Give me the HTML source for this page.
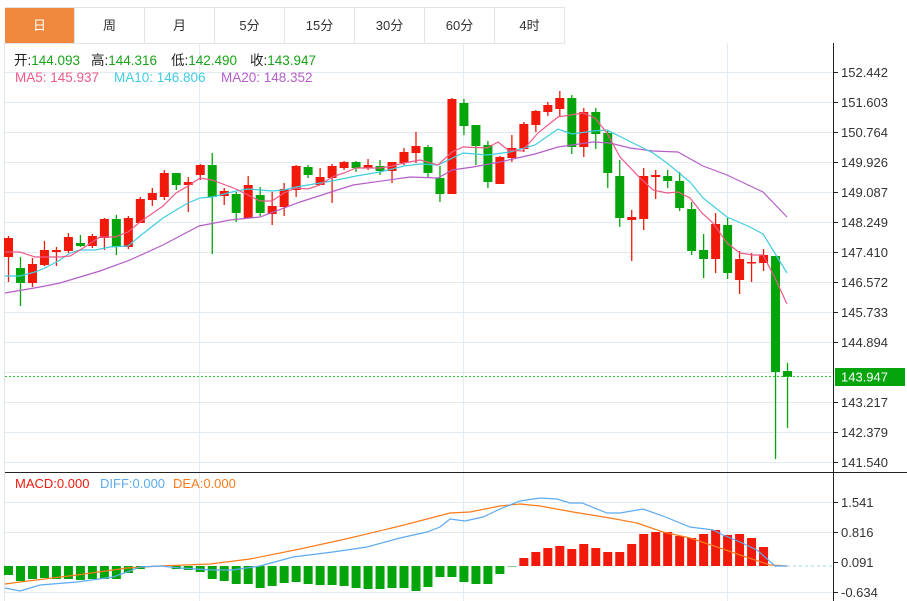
<!DOCTYPE html>
<html><head><meta charset="utf-8">
<style>
html,body{margin:0;padding:0;background:#fff;width:907px;height:601px;overflow:hidden;font-family:"Liberation Sans","Noto Sans CJK SC",sans-serif;}
.tabs{position:absolute;left:5px;top:7px;height:36px;display:flex;border-top:1px solid #e3e3e3;}
.tab{width:69px;height:35px;border-right:1px solid #e3e3e3;border-bottom:1px solid #e3e3e3;text-align:center;line-height:36px;font-size:13px;color:#333;}
.tab.on{background:#f0893e;color:#fff;}
svg{position:absolute;left:0;top:0;}
</style></head><body>
<div class="tabs"><div class="tab on">日</div><div class="tab">周</div><div class="tab">月</div><div class="tab">5分</div><div class="tab">15分</div><div class="tab">30分</div><div class="tab">60分</div><div class="tab">4时</div></div>
<svg id="s" width="907" height="601" xmlns="http://www.w3.org/2000/svg" font-family="Liberation Sans, Noto Sans CJK SC, sans-serif" font-size="13"></svg>
<script>
var s=document.getElementById('s');var h='';
var R='#f0190a',G='#03a50b';
h+='<line x1="4.5" y1="43" x2="4.5" y2="601" stroke="#dde3ea"/>';
for(var i=0;i<14;i++){var y=72.5+30*i;h+='<line x1="5" y1="'+y+'" x2="833" y2="'+y+'" stroke="#e2ebf2"/>';}
[502.5,532.5,592.5].forEach(function(y){h+='<line x1="5" y1="'+y+'" x2="833" y2="'+y+'" stroke="#e2ebf2"/>';});
[199.5,463.5,727.5].forEach(function(x){h+='<line x1="'+x+'" y1="43" x2="'+x+'" y2="601" stroke="#e2ebf2"/>';});
h+='<line x1="5" y1="472.5" x2="907" y2="472.5" stroke="#222"/>';
h+='<line x1="833.5" y1="43" x2="833.5" y2="601" stroke="#222"/>';
var lab=['152.442','151.603','150.764','149.926','149.087','148.249','147.410','146.572','145.733','144.894','','143.217','142.379','141.540'];
lab.forEach(function(t,i){var y=72.5+30*i;if(!t)return;h+='<line x1="833" y1="'+y+'" x2="838" y2="'+y+'" stroke="#222"/><text x="841" y="'+(y+4.5)+'" fill="#333">'+t+'</text>';});
[['1.541',502.5],['0.816',532.5],['0.091',562.5],['-0.634',592.5]].forEach(function(a){h+='<line x1="833" y1="'+a[1]+'" x2="838" y2="'+a[1]+'" stroke="#222"/><text x="841" y="'+(a[1]+4.5)+'" fill="#333">'+a[0]+'</text>';});
var c=[[238,257,236,282,R],[268,283,257,306,G],[264,283,258,287,R],[250,265,241,266,R],[250,252,247,266,R],[237,251,233,253,R],[243,246,235,247,G],[236,246,234,248,R],[219,238,218,250,R],[219,247,215,255,G],[218,247,216,249,R],[199,223,197,223,R],[193,200,188,206,R],[173,197,170,200,R],[173,185,173,190,G],[182,185,177,212,R],[165,175,164,180,R],[165,197,153,254,G],[191,196,188,205,R],[194,213,192,222,G],[185,218,176,218,R],[195,213,187,216,G],[206,214,192,225,R],[189,207,183,216,R],[166,190,165,197,R],[167,175,165,178,G],[177,185,168,185,R],[166,178,164,203,R],[162,168,161,170,R],[162,168,161,172,G],[165,168,159,170,R],[166,171,160,175,G],[162,171,162,183,R],[152,163,148,165,R],[146,153,132,163,R],[147,173,145,178,G],[178,194,166,202,G],[99,194,98,194,R],[103,126,99,135,G],[125,146,125,165,G],[145,182,141,188,G],[157,184,156,184,R],[148,158,135,162,R],[124,149,122,152,R],[111,125,110,132,R],[105,112,102,116,R],[98,109,91,116,R],[98,147,95,154,G],[112,147,108,157,R],[112,134,108,149,G],[133,173,130,188,G],[176,218,160,227,G],[217,220,210,261,R],[176,219,168,230,R],[175,177,170,199,R],[176,181,170,188,G],[181,208,172,211,G],[209,251,202,255,G],[250,259,234,278,G],[224,259,213,273,R],[225,273,218,279,G],[259,280,251,294,R],[262,263,253,282,R],[255,263,249,271,R],[256,372,256,459,G],[371,377,363,428,G]];
function X(i){return 8.5+i*11.985;}
c.forEach(function(d,i){var x=X(i);h+='<line x1="'+x+'" y1="'+d[2]+'" x2="'+x+'" y2="'+d[3]+'" stroke="'+d[4]+'" stroke-width="1.3"/>';var bh=Math.max(d[1]-d[0],1.5);h+='<rect x="'+(x-4.5)+'" y="'+d[0]+'" width="9" height="'+bh+'" fill="'+d[4]+'"/>';});
function pl(p,col,w){h+='<polyline fill="none" stroke="'+col+'" stroke-width="'+(w||1.2)+'" points="'+p.map(function(a){return a.join(',')}).join(' ')+'"/>';}
pl([[5,293],[40,287],[60,283],[100,271],[130,260],[163,245],[199,226],[230,220],[260,217],[300,202],[353,185],[410,177],[438,178],[452,170],[473,167],[500,162],[535,154],[558,147],[593,142],[610,143],[630,148],[653,151],[678,152],[703,166],[727,175],[763,192],[787,217]],'#b55ec8');
pl([[5,276],[20,276],[35,272],[45,268],[60,260],[70,253],[80,250],[95,250],[110,247],[128,246],[140,236],[163,218],[176,210],[188,203],[200,198],[212,197],[236,191],[248,189],[260,190],[272,191],[284,190],[296,187],[308,185],[332,181],[356,176],[380,172],[404,166],[420,164],[438,165],[463,153],[487,155],[510,152],[535,145],[558,129],[572,134],[593,131],[607,130],[627,140],[653,153],[667,163],[690,182],[703,198],[727,217],[750,227],[763,234],[787,273]],'#3fcde0');
pl([[5,252],[20,252],[35,257],[60,257],[70,256],[80,250],[100,237],[115,237],[128,232],[140,222],[163,206],[176,193],[188,186],[200,178],[212,180],[236,189],[248,195],[260,201],[272,201],[284,193],[296,188],[308,189],[320,185],[332,177],[344,173],[356,168],[380,168],[392,166],[404,163],[420,160],[438,165],[452,152],[463,147],[487,148],[498,142],[508,150],[522,151],[538,133],[558,117],[583,113],[595,118],[607,133],[620,157],[640,178],[653,190],[667,193],[678,192],[690,198],[702,213],[713,223],[727,243],[740,253],[753,255],[763,255],[775,278],[787,304]],'#ef5a88');
h+='<line x1="5" y1="376.5" x2="833" y2="376.5" stroke="#35c235" stroke-dasharray="2,2"/>';
h+='<rect x="835" y="368" width="70" height="18" fill="#03a50b"/><text x="841" y="381.5" fill="#fff">143.947</text>';
var mb=[575,581,579,578,579,579,580,579,579,579,573,569,567,566,569,570,572,579,581,584,584,588,586,583,582,584,585,585,586,588,589,589,588,588,591,587,577,577,582,584,584,574,566.5,558,552,548,546,549,544,548,552,552,544,534,532,532,536,538,534,530,535,534,538,547];
mb.forEach(function(v,i){var x=X(i)-4.5;var z=566;if(v>z)h+='<rect x="'+x+'" y="'+z+'" width="9" height="'+(v-z)+'" fill="'+G+'"/>';else h+='<rect x="'+x+'" y="'+v+'" width="9" height="'+(z-v)+'" fill="'+R+'"/>';});
h+='<line x1="787" y1="566" x2="833" y2="566" stroke="#9cd0f0" stroke-dasharray="3,3"/>';
pl([[5,584],[20,582],[77,575],[127,568],[160,566],[210,564],[250,559],[300,549],[350,538],[400,526],[450,513],[470,512],[500,506],[520,504],[540,506],[573,512],[610,518],[637,523],[663,532],[690,538],[717,547],[743,556],[770,565],[787,566]],'#fa7b1c');
pl([[5,588],[20,591],[40,585],[77,582],[113,577],[127,572],[140,567],[160,566],[180,568],[213,570],[233,570],[260,566],[293,557],[333,552],[367,547],[400,538],[427,532],[440,527],[450,519],[465,521],[483,517],[500,509],[520,501],[540,498],[557,499],[570,503],[582,503],[607,513],[620,513],[643,509],[663,516],[690,527],[713,530],[723,535],[740,542],[757,550],[775,566],[787,566]],'#5caaf0');
h+='<g font-size="13.5"><text x="14" y="65" fill="#222">开:<tspan fill="#1aa31a">144.093</tspan></text><text x="91" y="65" fill="#222">高:<tspan fill="#1aa31a">144.316</tspan></text><text x="171" y="65" fill="#222">低:<tspan fill="#1aa31a">142.490</tspan></text><text x="250" y="65" fill="#222">收:<tspan fill="#1aa31a">143.947</tspan></text>';
h+='<text x="15" y="82" fill="#ef5a88">MA5: 145.937</text><text x="114" y="82" fill="#3fcde0">MA10: 146.806</text><text x="221" y="82" fill="#b55ec8">MA20: 148.352</text></g>';
h+='<text x="15" y="488" fill="#f0190a">MACD:0.000</text><text x="100" y="488" fill="#5caaf0">DIFF:0.000</text><text x="173" y="488" fill="#fa7b1c">DEA:0.000</text>';
s.innerHTML=h;
</script>
</body></html>
